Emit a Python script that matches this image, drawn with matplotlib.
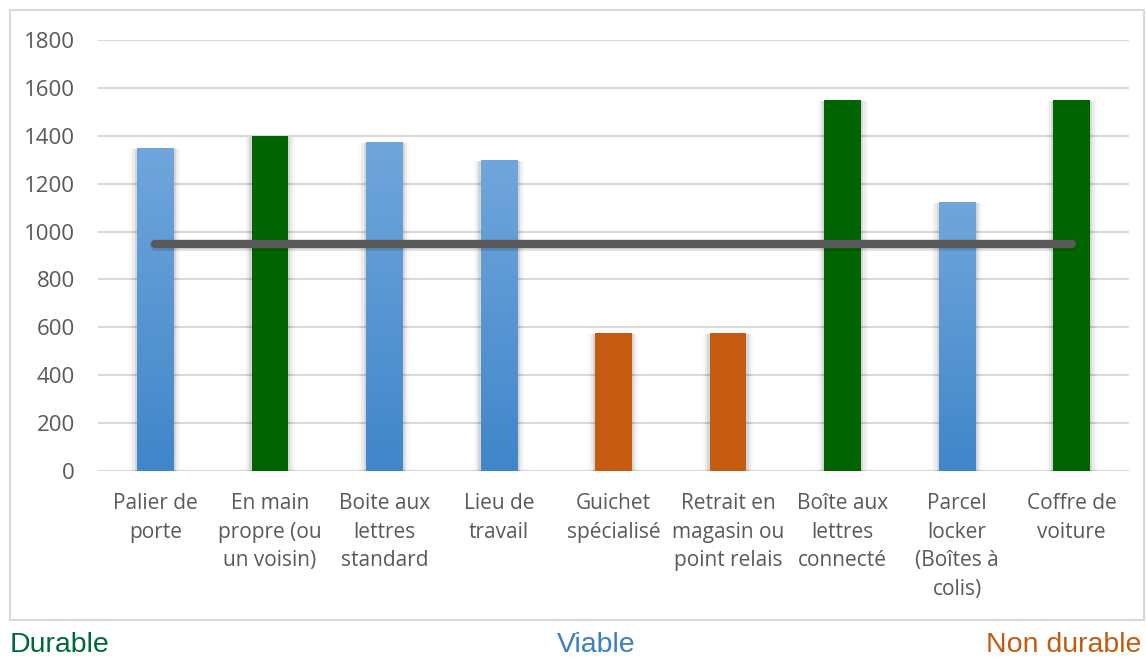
import numpy as np
import matplotlib.pyplot as plt
from matplotlib.patches import Rectangle
from matplotlib.colors import LinearSegmentedColormap

# --- données ---
categories = [
    "Palier de\nporte",
    "En main\npropre (ou\nun voisin)",
    "Boite aux\nlettres\nstandard",
    "Lieu de\ntravail",
    "Guichet\nspécialisé",
    "Retrait en\nmagasin ou\npoint relais",
    "Boîte aux\nlettres\nconnecté",
    "Parcel\nlocker\n(Boîtes à\ncolis)",
    "Coffre de\nvoiture",
]
values = [1350, 1400, 1375, 1300, 575, 575, 1550, 1125, 1550]
groups = ["viable", "durable", "viable", "viable", "non", "non", "durable", "viable", "durable"]
seuil = 950

GREEN = "#006400"
ORANGE = "#C55A11"
TEXT = "#595959"
GRID = "#D9D9D9"
blue_cmap = LinearSegmentedColormap.from_list("bleu", ["#4086CA", "#70A6DC"])

plt.rcParams['font.family'] = ['Open Sans', 'DejaVu Sans']

fig = plt.figure(figsize=(11.46, 6.59), dpi=100)
ax = fig.add_axes([98 / 1146, 1 - 471 / 659, 1031 / 1146, 431 / 659])

x = np.arange(len(categories))
width = 0.32

for xi, v, g in zip(x, values, groups):
    # ombre légère sur les côtés des barres
    for k, a in enumerate([0.09, 0.05, 0.025]):
        pad = 0.02 + k * 0.02
        ax.add_patch(Rectangle((xi - width / 2 - pad, 0), width + 2 * pad, v - 4,
                               facecolor="black", alpha=a, lw=0, zorder=1))
    if g == "viable":
        rect = Rectangle((xi - width / 2, 0), width, v, facecolor="none", lw=0, zorder=2)
        ax.add_patch(rect)
        grad = np.linspace(0, 1, 256).reshape(-1, 1)
        im = ax.imshow(grad, cmap=blue_cmap, origin="lower", aspect="auto",
                       extent=(xi - width / 2, xi + width / 2, 0, v), zorder=2)
        im.set_clip_path(rect)
    else:
        ax.add_patch(Rectangle((xi - width / 2, 0), width, v,
                               facecolor=GREEN if g == "durable" else ORANGE, lw=0, zorder=2))

# ligne de seuil
ax.plot([x[0], x[-1]], [seuil - 12, seuil - 12], color="black", alpha=0.12, lw=7,
        solid_capstyle="round", zorder=3)
ax.plot([x[0], x[-1]], [seuil, seuil], color="#595959", lw=6, solid_capstyle="round", zorder=4)

ax.set_xlim(-0.5, len(categories) - 0.5)
ax.set_ylim(0, 1800)
ax.set_yticks(range(0, 1801, 200))
ax.yaxis.grid(True, color=GRID, lw=1.5, zorder=0)
ax.set_axisbelow(True)
for s in ax.spines.values():
    s.set_visible(False)
ax.axhline(0, color=GRID, lw=1.5, zorder=0)
ax.tick_params(axis="both", length=0, colors=TEXT)
ax.tick_params(axis="y", pad=16.5, labelsize=16)
ax.set_xticks(x)
ax.set_xticklabels(categories, linespacing=1.47, va="top")
ax.tick_params(axis="x", pad=16, labelsize=15)

# cadre du graphique
fig.add_artist(Rectangle((10 / 1146, 1 - 620 / 659), 1134 / 1146, 610 / 659,
                         transform=fig.transFigure, facecolor="none",
                         edgecolor="#D9D9D9", lw=1.5))

fig.text(10 / 1146, 1 - 645 / 659, "Durable", color="#00693A", fontsize=20.5,
         family=['Liberation Sans', 'DejaVu Sans'], va="center", ha="left")
fig.text(596 / 1146, 1 - 645 / 659, "Viable", color="#3D7EC6", fontsize=20.5,
         family=['Liberation Sans', 'DejaVu Sans'], va="center", ha="center")
fig.text(1141 / 1146, 1 - 645 / 659, "Non durable", color=ORANGE, fontsize=20.5,
         family=['Liberation Sans', 'DejaVu Sans'], va="center", ha="right")

fig.savefig("out.png", dpi=100)
